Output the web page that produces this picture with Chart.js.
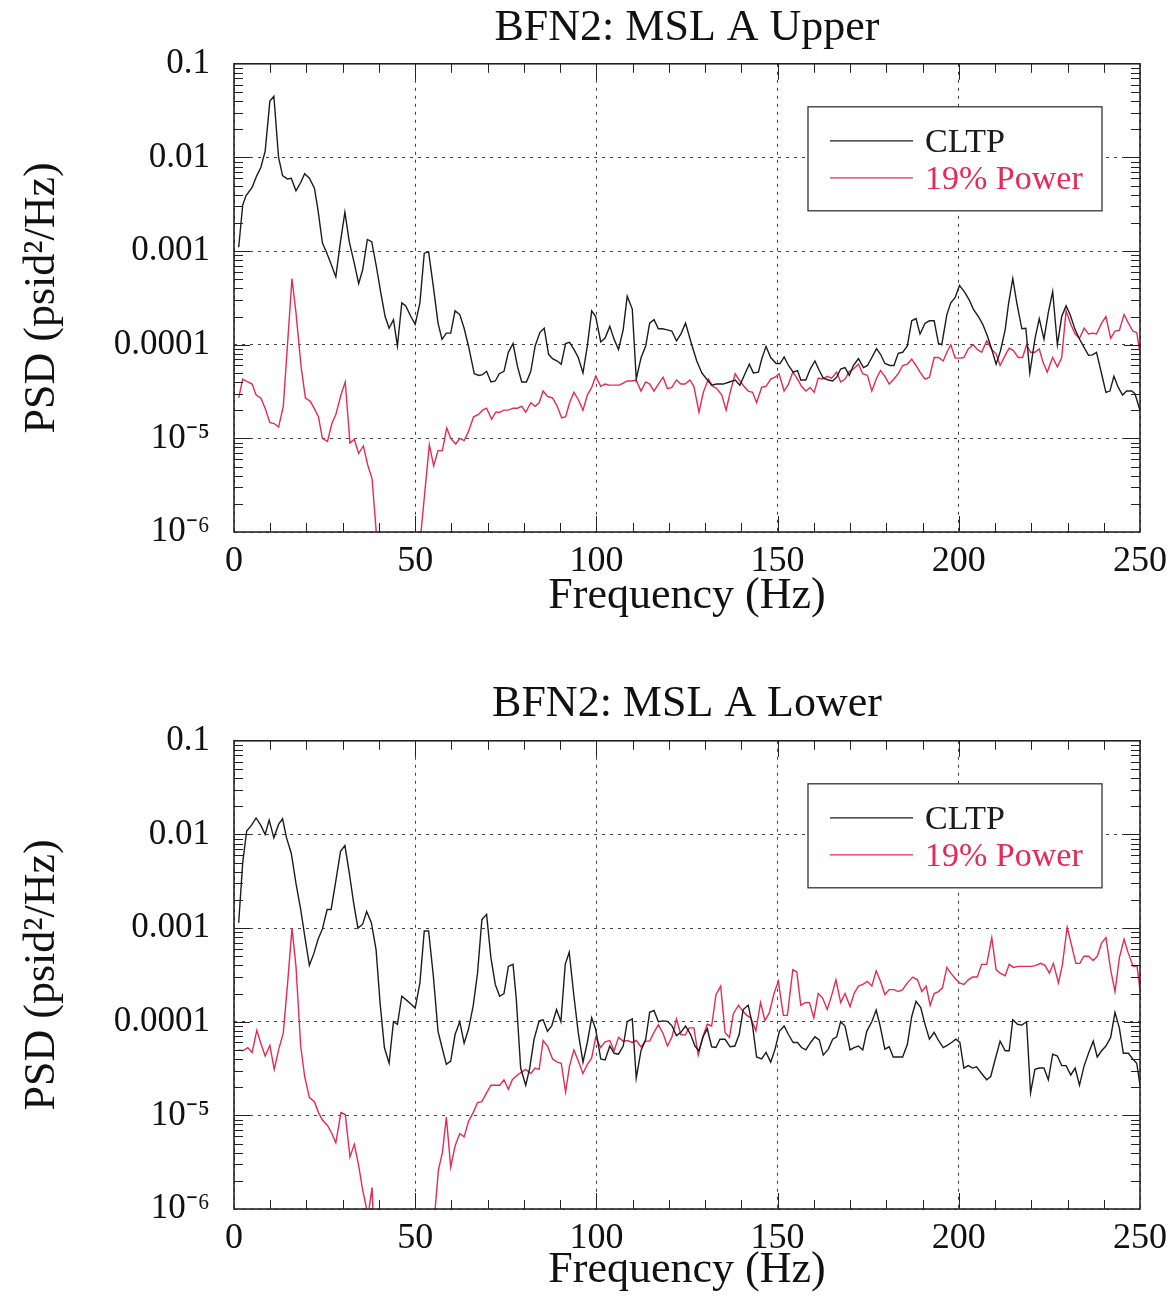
<!DOCTYPE html>
<html>
<head>
<meta charset="utf-8">
<script src="https://cdn.jsdelivr.net/npm/chart.js@4.4.1/dist/chart.umd.min.js"></script>
<style>
  html, body { margin: 0; padding: 0; background: #fff; }
  canvas { display: block; }
</style>
</head>
<body>
<canvas id="upper" width="1176" height="648"></canvas>
<canvas id="lower" width="1176" height="649"></canvas>
<script>
// axis ticks
const freqTicks = [0, 50, 100, 150, 200, 250];
const psdTicks = [1e-6, 1e-5, 1e-4, 1e-3, 1e-2, 1e-1];
const psdTickLabels = ['10\u207B\u2076', '10\u207B\u2075', '0.0001', '0.001', '0.01', '0.1'];
const seriesNames = ['CLTP', '19% Power'];
const panelTitles = ['BFN2: MSL A Upper', 'BFN2: MSL A Lower'];

// [Hz, psid^2/Hz]
const upperCltp = [
  [1.3,1.1e-3],[2.4,3.1e-3],[3.3,3.9e-3],[5.0,4.8e-3],[6.3,6.4e-3],[7.4,7.8e-3],[8.6,1.17e-2],[9.9,4.0e-2],
  [11.0,4.5e-2],[12.3,1.0e-2],[13.4,6.4e-3],[14.7,5.9e-3],[15.8,6.0e-3],[17.1,4.4e-3],[18.4,5.4e-3],[19.5,6.7e-3],
  [20.8,6.0e-3],[22.2,4.7e-3],[23.2,2.7e-3],[24.4,1.22e-3],[25.5,9.8e-4],[26.7,7.4e-4],[28.1,5.3e-4],[29.3,1.2e-3],
  [30.6,2.6e-3],[31.8,1.26e-3],[33.2,7.4e-4],[34.4,4.5e-4],[35.5,6.3e-4],[36.8,1.33e-3],[38.0,1.26e-3],[39.3,6.8e-4],
  [40.5,3.6e-4],[41.7,2.0e-4],[42.8,1.5e-4],[44.0,1.85e-4],[45.1,9.7e-5],[46.3,2.8e-4],[47.4,2.6e-4],[48.8,2.0e-4],
  [50.0,1.65e-4],[51.3,2.8e-4],[52.5,9.5e-4],[53.7,9.8e-4],[55.0,4.2e-4],[56.3,1.7e-4],[57.4,1.14e-4],[58.6,1.33e-4],
  [59.8,1.33e-4],[61.0,2.3e-4],[62.3,2.1e-4],[63.5,1.5e-4],[64.7,9.7e-5],[66.3,4.9e-5],[67.6,4.7e-5],[68.6,4.8e-5],
  [69.7,5.2e-5],[70.9,4.0e-5],[72.1,4.1e-5],[73.2,4.9e-5],[74.5,5.2e-5],[75.7,8.3e-5],[77.0,1.03e-4],[78.2,5.9e-5],
  [79.4,4.0e-5],[80.7,4.0e-5],[81.9,5.2e-5],[83.1,9.7e-5],[84.4,1.35e-4],[85.6,1.5e-4],[86.8,7.9e-5],[87.9,7.1e-5],
  [89.2,6.7e-5],[90.3,6.2e-5],[91.5,1.03e-4],[92.6,1.06e-4],[93.8,8.9e-5],[95.0,7.3e-5],[96.3,5.0e-5],[97.5,9.7e-5],
  [98.7,2.3e-4],[99.8,2.0e-4],[101.2,1.07e-4],[102.4,1.18e-4],[103.7,1.57e-4],[104.9,1.14e-4],[106.1,8.9e-5],[107.4,1.45e-4],
  [108.5,3.3e-4],[109.9,2.4e-4],[111.0,4.3e-5],[112.3,7.2e-5],[113.6,9.7e-5],[114.7,1.7e-4],[115.9,1.85e-4],[117.1,1.48e-4],
  [118.2,1.48e-4],[119.6,1.44e-4],[120.8,1.4e-4],[122.1,1.1e-4],[123.3,1.3e-4],[124.6,1.7e-4],[126.3,1.0e-4],[127.7,6.7e-5],
  [129.1,5.0e-5],[130.4,4.3e-5],[131.8,3.7e-5],[133.2,3.8e-5],[135.0,3.8e-5],[136.7,4.0e-5],[138.3,4.2e-5],[139.6,3.7e-5],
  [141.0,4.9e-5],[142.2,6.2e-5],[143.3,5.0e-5],[144.7,5.1e-5],[145.6,7.0e-5],[146.8,9.6e-5],[148.1,7.3e-5],[149.6,6.3e-5],
  [150.7,6.3e-5],[151.8,7.4e-5],[153.0,6.0e-5],[154.3,5.1e-5],[155.5,5.3e-5],[156.4,4.2e-5],[157.8,4.2e-5],[159.0,5.5e-5],
  [160.3,6.7e-5],[161.5,5.3e-5],[162.6,4.4e-5],[164.0,4.2e-5],[165.2,4.1e-5],[166.3,4.5e-5],[167.4,5.5e-5],[168.6,5.7e-5],
  [169.8,4.7e-5],[170.9,6.0e-5],[172.3,7.1e-5],[173.7,5.7e-5],[174.8,6.0e-5],[176.0,7.3e-5],[177.3,9.1e-5],[178.4,7.9e-5],
  [179.6,6.3e-5],[181.0,6.0e-5],[182.1,6.0e-5],[183.3,8.1e-5],[184.5,8.3e-5],[185.8,9.7e-5],[187.0,1.8e-4],[188.2,1.9e-4],
  [189.3,1.3e-4],[190.7,1.7e-4],[191.9,1.8e-4],[193.2,1.8e-4],[194.4,1.03e-4],[195.3,1.0e-4],[196.7,2.1e-4],[197.8,2.8e-4],
  [199.0,3.2e-4],[200.2,4.3e-4],[201.7,3.6e-4],[202.9,3.0e-4],[204.0,2.4e-4],[205.4,2.0e-4],[206.6,1.65e-4],[207.9,1.24e-4],
  [209.1,8.9e-5],[210.3,6.2e-5],[211.5,8.6e-5],[212.8,1.45e-4],[213.7,2.7e-4],[214.9,5.1e-4],[216.0,2.8e-4],[217.4,1.48e-4],
  [218.5,1.5e-4],[219.6,5.0e-5],[221.0,1.15e-4],[222.2,1.9e-4],[223.5,1.15e-4],[224.7,2.2e-4],[225.9,3.7e-4],[227.2,1.0e-4],
  [228.4,2.0e-4],[229.6,2.6e-4],[230.7,2.1e-4],[232.1,1.45e-4],[233.3,1.15e-4],[234.6,9.3e-5],[235.8,7.7e-5],[236.9,7.8e-5],
  [238.0,8.3e-5],[239.4,4.9e-5],[240.6,3.1e-5],[241.7,3.2e-5],[242.8,4.6e-5],[244.0,3.5e-5],[245.2,2.9e-5],[246.3,3.2e-5],
  [247.7,3.2e-5],[248.6,3.0e-5],[250.0,2.0e-5]
];
const upperPower = [
  [1.3,2.7e-5],[2.4,4.3e-5],[3.8,4.0e-5],[5.0,3.8e-5],[6.1,2.9e-5],[7.4,2.7e-5],[8.6,2.1e-5],[9.9,1.47e-5],
  [11.1,1.44e-5],[12.3,1.32e-5],[13.6,2.2e-5],[14.8,1.05e-4],[16.0,5.1e-4],[17.1,2.2e-4],[18.5,5.9e-5],[19.7,2.7e-5],
  [21.0,2.5e-5],[22.1,2.1e-5],[23.3,1.7e-5],[24.4,1.0e-5],[25.8,9.3e-6],[27.0,1.44e-5],[28.1,1.8e-5],[29.5,2.9e-5],
  [30.7,4.0e-5],[32.0,8.9e-6],[33.2,9.8e-6],[34.4,6.9e-6],[35.7,8.3e-6],[36.9,5.2e-6],[38.1,3.7e-6],[39.3,9.5e-7],
  [40.5,2e-7],[42.9,1.5e-7],[45.4,1.2e-7],[47.8,1.5e-7],[50.3,2e-7],[51.6,1.0e-6],[53.9,8.5e-6],[55.1,5.1e-6],
  [56.3,7.4e-6],[57.5,7.4e-6],[58.7,1.29e-5],[59.8,1.0e-5],[61.2,8.7e-6],[62.3,1.0e-5],[63.5,9.5e-6],[64.7,1.18e-5],
  [66.1,1.7e-5],[67.5,1.8e-5],[68.6,2.0e-5],[69.7,2.1e-5],[71.1,1.6e-5],[72.2,1.9e-5],[73.3,1.9e-5],[74.5,2.0e-5],
  [75.7,2.0e-5],[77.0,2.1e-5],[78.2,2.1e-5],[79.4,2.2e-5],[80.5,1.9e-5],[81.9,2.4e-5],[83.1,2.2e-5],[84.2,2.4e-5],
  [85.3,3.2e-5],[86.5,2.8e-5],[87.9,2.7e-5],[89.2,2.2e-5],[90.4,1.65e-5],[91.5,1.7e-5],[92.6,2.4e-5],[93.8,3.1e-5],
  [95.0,2.6e-5],[96.3,2.0e-5],[97.5,2.9e-5],[98.7,3.5e-5],[99.8,4.6e-5],[101.2,3.6e-5],[102.4,3.8e-5],[103.5,3.7e-5],
  [104.9,3.7e-5],[106.3,3.7e-5],[107.4,3.9e-5],[108.5,4.1e-5],[109.8,4.1e-5],[111.0,4.2e-5],[112.3,3.2e-5],[113.6,4.0e-5],
  [114.7,3.8e-5],[115.9,3.2e-5],[117.1,3.8e-5],[118.4,4.5e-5],[119.6,3.4e-5],[120.8,3.5e-5],[122.1,4.2e-5],[123.3,3.8e-5],
  [124.5,3.8e-5],[125.8,4.2e-5],[126.9,3.6e-5],[128.3,1.9e-5],[129.5,3.1e-5],[130.9,4.3e-5],[132.1,3.6e-5],[133.2,3.4e-5],
  [134.6,2.9e-5],[135.8,2.0e-5],[136.9,3.1e-5],[138.3,4.9e-5],[139.4,4.2e-5],[140.7,3.6e-5],[141.9,3.2e-5],[143.1,3.1e-5],
  [144.2,2.4e-5],[145.6,3.5e-5],[146.8,3.6e-5],[148.1,4.3e-5],[149.3,4.5e-5],[150.4,4.9e-5],[151.8,3.2e-5],[153.0,3.8e-5],
  [154.2,5.1e-5],[155.5,4.3e-5],[156.6,3.6e-5],[157.8,3.2e-5],[159.0,3.5e-5],[160.1,3.1e-5],[161.2,4.4e-5],[162.4,4.3e-5],
  [163.7,4.6e-5],[164.9,4.4e-5],[166.3,5.1e-5],[167.4,4.0e-5],[168.6,4.3e-5],[169.8,5.2e-5],[170.9,5.5e-5],[172.3,6.2e-5],
  [173.5,4.9e-5],[174.8,4.7e-5],[176.0,3.2e-5],[177.2,4.3e-5],[178.4,5.3e-5],[179.6,4.6e-5],[180.8,3.8e-5],[182.1,4.3e-5],
  [183.3,4.9e-5],[184.5,6.0e-5],[185.8,6.2e-5],[187.0,7.0e-5],[188.2,6.0e-5],[189.3,5.1e-5],[190.7,4.3e-5],[191.9,4.5e-5],
  [193.2,7.3e-5],[194.4,7.3e-5],[195.7,6.7e-5],[196.7,8.3e-5],[197.8,1.0e-4],[199.0,7.2e-5],[200.2,7.2e-5],[201.4,7.3e-5],
  [202.6,9.0e-5],[204.0,1.0e-4],[205.1,8.9e-5],[206.3,8.3e-5],[207.7,1.1e-4],[209.1,8.9e-5],[210.3,8.0e-5],[211.4,6.0e-5],
  [212.8,7.7e-5],[213.9,9.2e-5],[215.0,8.7e-5],[216.4,7.3e-5],[217.6,7.3e-5],[218.7,1.0e-4],[219.8,8.3e-5],[221.0,8.3e-5],
  [222.2,9.0e-5],[223.3,6.4e-5],[224.4,5.1e-5],[225.9,7.3e-5],[227.2,5.8e-5],[228.4,7.3e-5],[229.6,2.3e-4],[230.9,1.65e-4],
  [232.1,1.3e-4],[233.3,1.17e-4],[234.6,1.5e-4],[235.8,1.3e-4],[236.9,1.33e-4],[238.0,1.3e-4],[239.4,1.7e-4],[240.6,2.0e-4],
  [241.9,1.17e-4],[243.1,1.4e-4],[244.3,1.42e-4],[245.6,2.1e-4],[246.8,1.7e-4],[248.0,1.4e-4],[249.1,1.35e-4],[250.0,8.2e-5]
];
const lowerCltp = [
  [1.3,1.14e-3],[2.4,5.0e-3],[3.5,1.09e-2],[4.8,1.25e-2],[6.1,1.5e-2],[7.4,1.25e-2],[8.6,1.0e-2],[9.7,1.42e-2],
  [11.0,9.2e-3],[12.3,1.28e-2],[13.4,1.47e-2],[14.5,9.2e-3],[15.8,6.3e-3],[17.1,3.0e-3],[18.4,1.58e-3],[19.5,8.3e-4],
  [20.8,4.0e-4],[22.0,5.3e-4],[23.2,7.6e-4],[24.4,9.8e-4],[25.7,1.58e-3],[26.8,1.58e-3],[28.1,3.2e-3],[29.4,6.6e-3],
  [30.6,7.6e-3],[31.8,3.9e-3],[33.0,1.87e-3],[34.2,1.0e-3],[35.5,1.1e-3],[36.6,1.5e-3],[37.9,1.14e-3],[39.2,5.9e-4],
  [40.3,1.6e-4],[41.5,5.3e-5],[42.8,3.6e-5],[44.0,1.0e-4],[45.1,9.4e-5],[46.3,1.87e-4],[47.6,1.7e-4],[48.8,1.55e-4],
  [50.0,1.4e-4],[51.3,2.6e-4],[52.5,9.3e-4],[53.7,9.3e-4],[55.0,3.1e-4],[56.3,7.9e-5],[57.4,5.3e-5],[58.6,3.5e-5],
  [59.8,3.8e-5],[61.0,7.3e-5],[62.3,1.0e-4],[63.5,5.9e-5],[64.7,8.3e-5],[66.0,1.48e-4],[67.2,3.3e-4],[68.4,1.23e-3],
  [69.7,1.4e-3],[70.9,4.8e-4],[72.1,2.5e-4],[73.3,1.87e-4],[74.5,2.0e-4],[75.7,3.9e-4],[77.0,4.1e-4],[77.9,1.74e-4],
  [79.1,3.2e-5],[80.5,2.1e-5],[81.6,3.2e-5],[82.8,6.5e-5],[84.2,1.02e-4],[85.3,1.05e-4],[86.5,7.9e-5],[87.7,9.1e-5],
  [89.0,1.35e-4],[90.2,1.0e-4],[91.4,4.1e-4],[92.5,5.5e-4],[93.8,1.87e-4],[95.0,7.6e-5],[96.3,3.7e-5],[97.5,6.0e-5],
  [98.7,1.1e-4],[99.8,8.3e-5],[101.2,4.0e-5],[102.4,3.9e-5],[103.7,5.5e-5],[104.9,4.6e-5],[106.1,4.5e-5],[107.4,5.5e-5],
  [108.5,1.0e-4],[109.9,1.07e-4],[111.0,2.5e-5],[112.3,4.9e-5],[113.6,6.5e-5],[114.7,1.26e-4],[115.9,1.32e-4],[117.1,1.0e-4],
  [118.4,1.02e-4],[119.6,1.01e-4],[120.8,9.1e-5],[122.1,7.1e-5],[123.3,7.7e-5],[124.6,9.0e-5],[126.0,7.3e-5],[127.2,5.5e-5],
  [128.3,4.9e-5],[129.5,7.0e-5],[130.6,8.4e-5],[131.8,5.4e-5],[133.0,5.3e-5],[134.1,6.5e-5],[135.5,6.5e-5],[136.9,5.4e-5],
  [138.2,5.5e-5],[139.4,7.3e-5],[140.5,1.35e-4],[141.9,1.5e-4],[143.1,9.0e-5],[144.2,4.2e-5],[145.6,4.0e-5],[146.8,4.7e-5],
  [148.1,3.7e-5],[149.3,5.1e-5],[150.5,7.9e-5],[151.8,9.0e-5],[153.0,7.3e-5],[154.3,6.0e-5],[155.5,6.0e-5],[156.6,5.3e-5],
  [157.8,5.0e-5],[159.1,6.0e-5],[160.3,6.9e-5],[161.5,6.4e-5],[162.6,4.4e-5],[164.0,5.1e-5],[165.2,6.5e-5],[166.3,6.9e-5],
  [167.4,1.0e-4],[168.6,9.0e-5],[170.0,5.0e-5],[171.1,5.3e-5],[172.3,5.5e-5],[173.5,5.0e-5],[174.6,7.9e-5],[176.0,1.0e-4],
  [177.2,1.33e-4],[178.3,9.0e-5],[179.6,5.1e-5],[180.8,5.4e-5],[181.9,4.2e-5],[183.0,4.2e-5],[184.5,4.2e-5],[185.8,5.7e-5],
  [187.0,1.13e-4],[188.2,1.65e-4],[189.5,1.42e-4],[190.7,9.3e-5],[191.9,6.5e-5],[193.2,7.7e-5],[194.4,6.3e-5],[195.7,5.3e-5],
  [196.8,5.6e-5],[198.0,6.0e-5],[199.2,6.5e-5],[200.3,6.0e-5],[201.4,3.2e-5],[202.6,3.4e-5],[203.8,3.2e-5],[204.9,3.3e-5],
  [206.3,2.8e-5],[207.7,2.4e-5],[208.8,2.6e-5],[210.0,3.9e-5],[211.4,6.2e-5],[212.8,4.9e-5],[213.9,4.9e-5],[214.9,1.05e-4],
  [216.2,9.4e-5],[217.4,9.2e-5],[218.7,1.0e-4],[219.8,1.74e-5],[221.0,3.1e-5],[222.2,3.2e-5],[223.5,3.2e-5],[224.7,2.4e-5],
  [225.9,4.5e-5],[227.2,4.3e-5],[228.4,3.4e-5],[229.6,3.4e-5],[230.9,2.7e-5],[232.1,3.2e-5],[233.3,2.1e-5],[234.6,3.4e-5],
  [235.8,4.6e-5],[237.1,6.2e-5],[238.2,4.2e-5],[239.4,4.9e-5],[240.6,5.5e-5],[241.9,6.8e-5],[243.1,1.26e-4],[244.3,8.6e-5],
  [245.4,4.6e-5],[246.8,4.6e-5],[248.0,4.0e-5],[249.1,3.6e-5],[250.0,2.1e-5]
];
const lowerPower = [
  [1.3,5.0e-5],[2.4,4.9e-5],[3.8,5.3e-5],[5.0,4.7e-5],[6.3,8.1e-5],[7.4,5.9e-5],[8.6,4.3e-5],[9.9,5.6e-5],
  [11.1,3.1e-5],[12.3,5.0e-5],[13.6,7.6e-5],[14.8,2.6e-4],[16.0,1.0e-3],[17.1,3.9e-4],[18.4,5.5e-5],[19.5,2.6e-5],
  [20.8,1.55e-5],[22.2,1.4e-5],[23.3,1.07e-5],[24.4,8.9e-6],[25.8,7.8e-6],[27.0,6.4e-6],[28.1,5.1e-6],[29.5,1.07e-5],
  [30.7,1.02e-5],[32.0,3.6e-6],[33.2,4.9e-6],[34.4,2.9e-6],[35.5,1.6e-6],[36.6,1.0e-6],[37.1,9e-7],[38.1,1.7e-6],
  [38.6,5e-7],[40.5,1.5e-7],[43.0,1e-7],[46.0,1e-7],[49.0,1e-7],[52.0,1e-7],[54.5,2e-7],[55.5,1.0e-6],
  [56.4,2.6e-6],[57.5,4.0e-6],[58.6,9.6e-6],[59.8,2.8e-6],[61.0,4.7e-6],[62.3,6.4e-6],[63.5,5.9e-6],[64.7,8.6e-6],
  [66.0,1.07e-5],[67.2,1.37e-5],[68.4,1.4e-5],[69.7,1.74e-5],[70.9,2.1e-5],[72.2,2.1e-5],[73.3,2.1e-5],[74.5,2.4e-5],
  [75.7,1.9e-5],[76.8,2.4e-5],[78.2,2.7e-5],[79.4,2.9e-5],[80.5,3.1e-5],[81.9,2.8e-5],[83.1,3.2e-5],[84.2,3.1e-5],
  [85.3,6.3e-5],[86.5,5.5e-5],[87.9,4.0e-5],[89.2,3.7e-5],[90.3,3.6e-5],[91.5,1.77e-5],[92.6,3.4e-5],[93.8,5.0e-5],
  [95.0,3.8e-5],[96.3,2.8e-5],[97.5,3.5e-5],[98.7,4.1e-5],[99.8,6.8e-5],[101.2,5.3e-5],[102.4,6.1e-5],[103.7,6.3e-5],
  [104.9,4.9e-5],[106.1,6.8e-5],[107.4,6.2e-5],[108.5,6.3e-5],[109.9,6.0e-5],[111.0,6.3e-5],[112.3,5.4e-5],[113.6,6.2e-5],
  [114.7,6.2e-5],[115.9,7.7e-5],[117.1,9.3e-5],[118.4,7.5e-5],[119.6,5.5e-5],[120.8,6.8e-5],[122.1,1.07e-4],[123.3,7.3e-5],
  [124.5,7.2e-5],[125.6,8.6e-5],[126.9,8.6e-5],[128.1,4.4e-5],[129.3,6.8e-5],[130.6,9.4e-5],[131.8,9.0e-5],[133.0,1.94e-4],
  [134.3,2.4e-4],[135.5,7.7e-5],[136.7,6.8e-5],[137.8,1.22e-4],[139.2,1.5e-4],[140.4,1.3e-4],[141.5,1.17e-4],[142.6,1.1e-4],
  [144.0,8.0e-5],[145.3,1.6e-4],[146.5,1.03e-4],[147.7,1.24e-4],[149.0,2.0e-4],[150.2,2.7e-4],[151.6,1.17e-4],[152.7,1.17e-4],
  [154.2,3.6e-4],[155.3,3.4e-4],[156.4,1.5e-4],[157.6,1.6e-4],[158.8,1.6e-4],[160.0,1.1e-4],[161.2,2.0e-4],[162.4,1.8e-4],
  [163.7,1.35e-4],[164.9,1.9e-4],[166.1,2.8e-4],[167.4,1.6e-4],[168.6,2.0e-4],[170.0,1.45e-4],[171.1,2.0e-4],[172.3,2.4e-4],
  [173.5,2.5e-4],[174.8,2.7e-4],[176.0,2.4e-4],[177.2,3.5e-4],[178.4,2.7e-4],[179.6,1.95e-4],[180.8,2.2e-4],[182.1,2.2e-4],
  [183.3,2.1e-4],[184.5,2.2e-4],[185.8,2.6e-4],[187.3,3.0e-4],[188.6,2.8e-4],[189.8,2.1e-4],[191.0,2.4e-4],[192.1,1.5e-4],
  [193.2,2.0e-4],[194.4,2.1e-4],[195.5,2.3e-4],[196.7,3.8e-4],[197.8,3.3e-4],[199.0,2.9e-4],[200.2,2.6e-4],[201.4,2.5e-4],
  [202.6,2.8e-4],[203.8,3.0e-4],[205.1,3.0e-4],[206.3,4.1e-4],[207.7,4.1e-4],[209.1,7.9e-4],[210.3,3.6e-4],[211.4,3.3e-4],
  [212.8,3.1e-4],[213.9,4.1e-4],[215.1,3.8e-4],[216.4,3.9e-4],[217.6,3.9e-4],[218.9,3.9e-4],[220.1,3.9e-4],[221.3,4.0e-4],
  [222.6,4.2e-4],[223.8,4.0e-4],[225.0,3.3e-4],[226.1,4.2e-4],[227.5,2.6e-4],[228.6,4.1e-4],[229.9,1.02e-3],[231.1,6.6e-4],
  [232.3,4.2e-4],[233.4,4.2e-4],[234.5,5.0e-4],[235.8,5.0e-4],[237.1,4.5e-4],[238.2,5.0e-4],[239.4,6.9e-4],[240.6,7.9e-4],
  [241.9,3.6e-4],[243.1,2.1e-4],[244.3,4.8e-4],[245.6,7.6e-4],[246.7,5.5e-4],[248.1,3.9e-4],[249.2,3.9e-4],[250.0,2.2e-4]
];

const SERIF = '"Liberation Serif", "Times New Roman", serif';
const lineColors = ['#1c1c1c', '#e62a55'];

// frame, inward ticks and the boxed legend
const framePlugin = {
  id: 'frame',
  afterDatasetsDraw(chart) {
    const { ctx, chartArea: a, scales } = chart;
    const x = scales.x, y = scales.y;
    ctx.save();
    ctx.strokeStyle = '#222';
    ctx.lineWidth = 1;
    ctx.beginPath();
    for (let f = 10; f < 250; f += 10) {
      const px = Math.round(x.getPixelForValue(f)) + 0.5;
      const len = f % 50 === 0 ? 16 : 9;
      ctx.moveTo(px, a.bottom); ctx.lineTo(px, a.bottom - len);
      ctx.moveTo(px, a.top); ctx.lineTo(px, a.top + len);
    }
    for (let e = -6; e < -1; e++) {
      for (let k = 1; k <= 9; k++) {
        const v = k * Math.pow(10, e);
        if (v <= 1e-6) continue;
        const py = Math.round(y.getPixelForValue(v)) + 0.5;
        const len = k === 1 ? 16 : 9;
        ctx.moveTo(a.left, py); ctx.lineTo(a.left + len, py);
        ctx.moveTo(a.right, py); ctx.lineTo(a.right - len, py);
      }
    }
    ctx.stroke();
    ctx.lineWidth = 1.6;
    ctx.strokeRect(a.left, a.top, a.right - a.left, a.bottom - a.top);
    ctx.restore();
  },
  afterDraw(chart) {
    const { ctx, chartArea: a } = chart;
    const bx = a.left + 574, by = a.top + 43, bw = 294, bh = 104;
    ctx.save();
    ctx.fillStyle = '#fff';
    ctx.fillRect(bx, by, bw, bh);
    ctx.strokeStyle = '#333';
    ctx.lineWidth = 1.3;
    ctx.strokeRect(bx, by, bw, bh);
    ctx.font = '34px ' + SERIF;
    ctx.textBaseline = 'middle';
    chart.data.datasets.forEach((ds, i) => {
      const ly = by + 34 + i * 37;
      ctx.strokeStyle = ds.borderColor;
      ctx.lineWidth = 1.2;
      ctx.beginPath();
      ctx.moveTo(bx + 22, ly); ctx.lineTo(bx + 105, ly);
      ctx.stroke();
      ctx.fillStyle = ds.borderColor;
      ctx.fillText(ds.label, bx + 117, ly + 2);
    });
    ctx.restore();
  }
};

function makePanel(id, title, cltp, power, titlePad, xHeight) {
  const ctx = document.getElementById(id).getContext('2d');
  return new Chart(ctx, {
    type: 'line',
    data: {
      datasets: [
        { label: seriesNames[0], data: cltp.map(p => ({ x: p[0], y: p[1] })), borderColor: lineColors[0] },
        { label: seriesNames[1], data: power.map(p => ({ x: p[0], y: p[1] })), borderColor: lineColors[1] }
      ]
    },
    options: {
      responsive: false,
      animation: false,
      devicePixelRatio: 1,
      layout: { padding: { left: 0, right: 36, top: 0, bottom: 0 } },
      elements: {
        line: { borderWidth: 1.4, tension: 0 },
        point: { radius: 0 }
      },
      plugins: {
        legend: { display: false },
        tooltip: { enabled: false },
        title: {
          display: true,
          fullSize: false,
          text: title,
          color: '#111',
          font: { family: SERIF, size: 44, weight: 'normal' },
          padding: titlePad
        }
      },
      scales: {
        x: {
          type: 'linear',
          min: 0,
          max: 250,
          afterBuildTicks: s => { s.ticks = freqTicks.map(v => ({ value: v })); },
          afterFit: s => { s.height = xHeight; },
          ticks: { color: '#111', font: { family: SERIF, size: 36 }, padding: 8, maxRotation: 0 },
          grid: { color: '#444', lineWidth: 1, drawTicks: false },
          border: { display: false, dash: [3, 5] },
          title: {
            display: true,
            text: 'Frequency (Hz)',
            color: '#111',
            font: { family: SERIF, size: 44 },
            padding: { top: 0, bottom: xHeight > 100 ? 25 : 0 }
          }
        },
        y: {
          type: 'logarithmic',
          min: 1e-6,
          max: 0.1,
          afterBuildTicks: s => { s.ticks = psdTicks.map(v => ({ value: v })); },
          afterFit: s => { s.width = 234; },
          ticks: {
            color: '#111',
            font: { family: SERIF, size: 35 },
            padding: 24,
            autoSkip: false,
            callback: v => psdTickLabels[psdTicks.findIndex(t => Math.abs(Math.log10(t) - Math.log10(v)) < 1e-6)]
          },
          grid: { color: '#444', lineWidth: 1, drawTicks: false },
          border: { display: false, dash: [3, 5] },
          title: {
            display: true,
            text: 'PSD (psid\u00B2/Hz)',
            color: '#111',
            font: { family: SERIF, size: 44 },
            padding: { top: 16, bottom: 0 }
          }
        }
      }
    },
    plugins: [framePlugin]
  });
}

makePanel('upper', panelTitles[0], upperCltp, upperPower, { top: 2, bottom: 9 }, 116);
makePanel('lower', panelTitles[1], lowerCltp, lowerPower, { top: 30, bottom: 10 }, 88);
</script>
</body>
</html>
